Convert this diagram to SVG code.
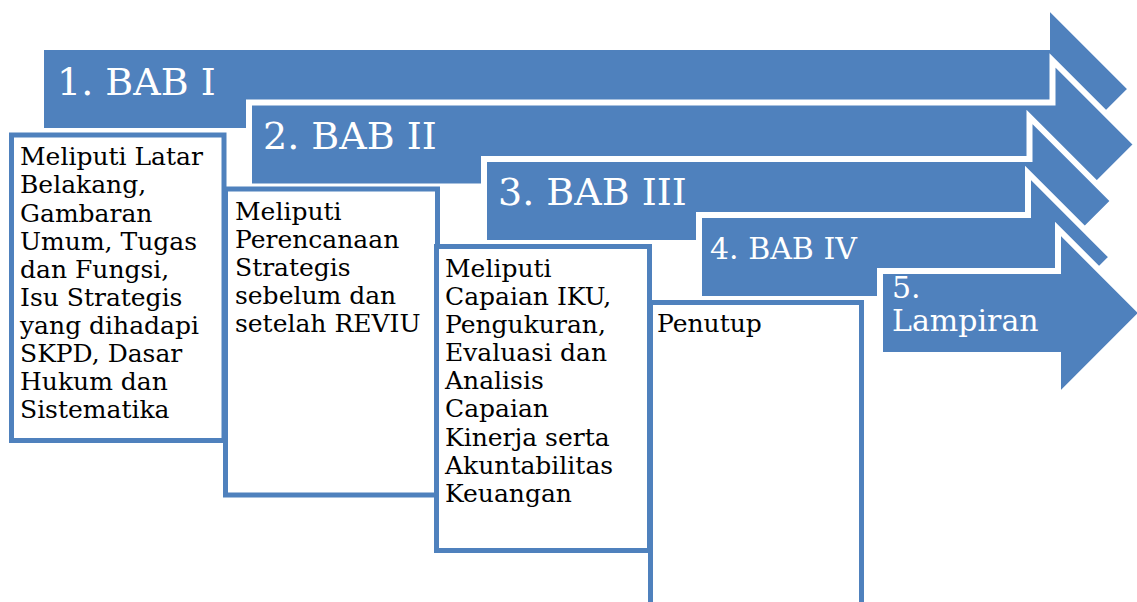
<svg xmlns="http://www.w3.org/2000/svg" width="1137" height="602" viewBox="0 0 1137 602">
  <style>
    .arrow { fill: #4F81BD; stroke: #FFFFFF; stroke-width: 6; stroke-linejoin: miter; }
    .box { fill: #FFFFFF; stroke: #4F81BD; stroke-width: 5; }
    .head { font-family: "DejaVu Serif", "Liberation Serif", serif; fill: #FFFFFF; }
    .body { font-family: "DejaVu Serif", "Liberation Serif", serif; font-size: 25px; fill: #000000; }
  </style>
  <rect width="1137" height="602" fill="#FFFFFF"/>

  <!-- chapter arrows, each later one laid over the previous -->
  <g id="bab1">
    <path class="arrow" d="M41,47 H1047 V5 L1131,89 L1047,173 V131 H41 Z"/>
    <text class="head" x="57" y="95" font-size="38">1. BAB I</text>
  </g>
  <g id="bab2">
    <path class="arrow" d="M249,102.5 H1052.5 V60.5 L1136.5,144.5 L1052.5,228.5 V186.5 H249 Z"/>
    <text class="head" x="263" y="149" font-size="38">2. BAB II</text>
  </g>
  <g id="bab3">
    <path class="arrow" d="M484,159 H1029.5 V117 L1113.5,201 L1029.5,285 V243 H484 Z"/>
    <text class="head" x="498" y="205" font-size="38">3. BAB III</text>
  </g>
  <g id="bab4">
    <path class="arrow" d="M699,215 H1028 V173 L1112,257 L1028,341 V299 H699 Z"/>
    <text class="head" x="710" y="259" font-size="30">4. BAB IV</text>
  </g>
  <g id="lampiran">
    <path class="arrow" d="M880,271 H1058 V229 L1142,313 L1058,397 V355 H880 Z"/>
    <text class="head" font-size="30"><tspan x="892" y="298">5.</tspan><tspan x="892" y="331">Lampiran</tspan></text>
  </g>

  <!-- description boxes -->
  <g id="desc1">
    <rect class="box" x="11.5" y="135" width="212.5" height="305.5"/>
    <text class="body">
      <tspan x="20" y="165">Meliputi Latar</tspan>
      <tspan x="20" y="193">Belakang,</tspan>
      <tspan x="20" y="221.5">Gambaran</tspan>
      <tspan x="20" y="250">Umum, Tugas</tspan>
      <tspan x="20" y="278">dan Fungsi,</tspan>
      <tspan x="20" y="306">Isu Strategis</tspan>
      <tspan x="20" y="333.5">yang dihadapi</tspan>
      <tspan x="20" y="361.5">SKPD, Dasar</tspan>
      <tspan x="20" y="390">Hukum dan</tspan>
      <tspan x="20" y="418">Sistematika</tspan>
    </text>
  </g>
  <g id="desc2">
    <rect class="box" x="225.5" y="189" width="212" height="306"/>
    <text class="body">
      <tspan x="235" y="219.5">Meliputi</tspan>
      <tspan x="235" y="247.5">Perencanaan</tspan>
      <tspan x="235" y="276">Strategis</tspan>
      <tspan x="235" y="304">sebelum dan</tspan>
      <tspan x="235" y="332">setelah REVIU</tspan>
    </text>
  </g>
  <g id="desc3">
    <rect class="box" x="436.5" y="246.5" width="213" height="304"/>
    <text class="body">
      <tspan x="445" y="277">Meliputi</tspan>
      <tspan x="445" y="305">Capaian IKU,</tspan>
      <tspan x="445" y="333">Pengukuran,</tspan>
      <tspan x="445" y="361">Evaluasi dan</tspan>
      <tspan x="445" y="389">Analisis</tspan>
      <tspan x="445" y="417">Capaian</tspan>
      <tspan x="445" y="446">Kinerja serta</tspan>
      <tspan x="445" y="474">Akuntabilitas</tspan>
      <tspan x="445" y="502">Keuangan</tspan>
    </text>
  </g>
  <g id="desc4">
    <rect class="box" x="650.5" y="302.5" width="211" height="320"/>
    <text class="body"><tspan x="657" y="332">Penutup</tspan></text>
  </g>

  <!-- the layout has no connector lines -->
  <g id="connectors"/>
</svg>
